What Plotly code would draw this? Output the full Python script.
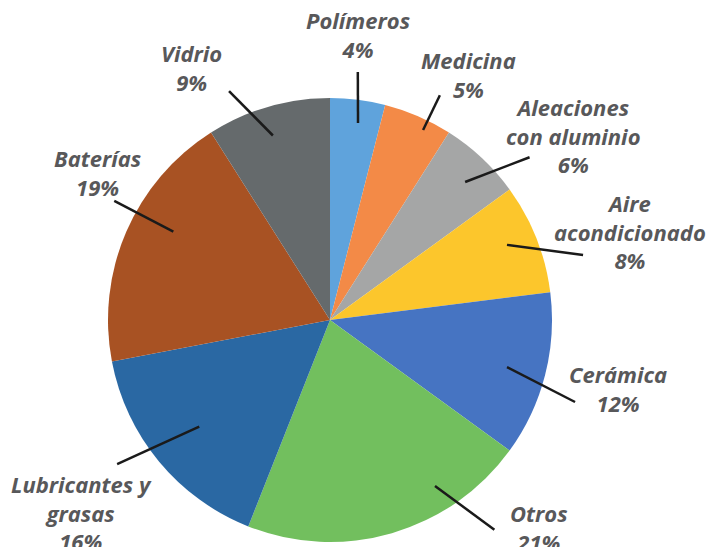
import math
import plotly.graph_objects as go

# ---- data ----
categories = ["Polímeros", "Medicina", "Aleaciones con aluminio", "Aire acondicionado",
              "Cerámica", "Otros", "Lubricantes y grasas", "Baterías", "Vidrio"]
values = [4, 5, 6, 8, 12, 21, 16, 19, 9]
label_texts = ["Polímeros", "Medicina", "Aleaciones<br>con aluminio", "Aire<br>acondicionado",
               "Cerámica", "Otros", "Lubricantes y<br>grasas", "Baterías", "Vidrio"]
colors = ["#5fa3dc", "#f38a47", "#a5a6a6", "#fcc62c", "#4674c2",
          "#72bf5e", "#2a68a3", "#a85223", "#656a6c"]

# ---- layout / styling ----
W, H = 713, 547
CX, CY, R = 330, 320, 222  # pixel center / radius of the pie

# leader line tweaks: (angle offset in, radius in, angle offset out, radius out)
line_style = [(0.9, 0.896, -0.8, 1.124), (2.7, 0.953, 2.65, 1.127), (1.2, 0.87, 7.6, 1.16),
              (-1.4, 0.866, 7.2, 1.177), (0.5, 0.825, 4.1, 1.164), (-16.1, 0.885, -21.9, 1.2),
              (0.4, 0.76, 5.5, 1.158), (6.0, 0.81, 5.5, 1.11), (-1.0, 0.87, -7.6, 1.127)]
# label block centers (pixels)
label_pos = [(358, 34), (468, 74), (573, 135), (630, 232), (618, 388),
             (539, 527), (81, 512), (97, 172), (191, 67)]

def px(ang_deg, rf):
    a = math.radians(ang_deg)
    x = CX + R * rf * math.sin(a)
    y = CY - R * rf * math.cos(a)
    return x / W, 1 - y / H

fig = go.Figure(go.Pie(
    labels=categories, values=values, sort=False, direction="clockwise", rotation=0,
    marker=dict(colors=colors, line=dict(width=0)),
    textinfo="none", hoverinfo="label+percent",
    domain=dict(x=[(CX - R) / W, (CX + R) / W], y=[(H - CY - R) / H, (H - CY + R) / H]),
    showlegend=False,
))

total = sum(values)
cum = 0
shapes, annotations = [], []
for i, v in enumerate(values):
    mid = (cum + v / 2) / total * 360
    cum += v
    dai, ri, dao, ro = line_style[i]
    x0, y0 = px(mid + dai, ri)
    x1, y1 = px(mid + dao, ro)
    shapes.append(dict(type="line", xref="paper", yref="paper", x0=x0, y0=y0, x1=x1, y1=y1,
                       line=dict(color="#1a1a1a", width=2.5)))
    pct = round(v / total * 100)
    lx, ly = label_pos[i]
    annotations.append(dict(
        text=f"{label_texts[i]}<br>{pct}%", xref="paper", yref="paper",
        x=lx / W, y=1 - ly / H, xanchor="center", yanchor="middle", showarrow=False,
        align="center",
        font=dict(family="'Open Sans', sans-serif", size=22, color="#58585a",
                  weight="bold", style="italic"),
    ))

fig.update_layout(
    width=W, height=H, margin=dict(l=0, r=0, t=0, b=0),
    paper_bgcolor="white", plot_bgcolor="white",
    shapes=shapes, annotations=annotations,
)
fig.write_html("out.html", config={"displayModeBar": False},
               post_script="document.body.style.margin='0px';")
